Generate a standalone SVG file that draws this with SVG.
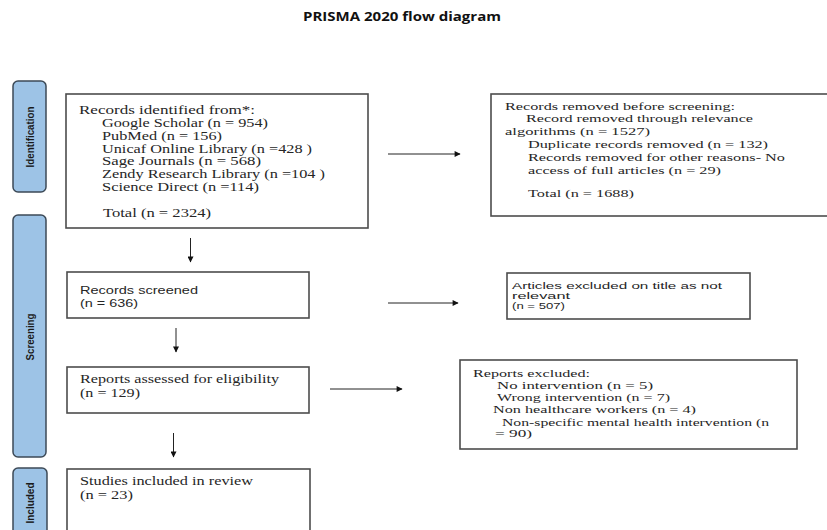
<svg xmlns="http://www.w3.org/2000/svg" width="827" height="530" viewBox="0 0 827 530">
<defs>
<style>
.bg{fill:#ffffff}
.box{fill:#ffffff;stroke:#4d4d4d;stroke-width:1.6}
.side{fill:#9dc3e6;stroke:#3d4a57;stroke-width:1.5}
.ser{font-family:"Liberation Serif","Times New Roman",serif;font-size:12px;fill:#262626}
.ser2{font-family:"Liberation Serif","Times New Roman",serif;font-size:11px;fill:#262626}
.san{font-family:"Liberation Sans",Arial,sans-serif;font-size:11px;fill:#262626}
.san2{font-family:"Liberation Sans",Arial,sans-serif;font-size:9.5px;fill:#262626}
.lbl{font-family:"Liberation Sans",Arial,sans-serif;font-size:11px;font-weight:bold;fill:#1a1a1a}
.title{font-family:"Open Sans","Liberation Sans",sans-serif;font-size:11.5px;font-weight:bold;fill:#111}
.con{stroke:#222;stroke-width:1;fill:none;marker-end:url(#ah)}
</style>
<marker id="ah" viewBox="0 0 10 10" refX="9" refY="5" markerWidth="7" markerHeight="6" markerUnits="userSpaceOnUse" orient="auto">
<path d="M0,0 L10,5 L0,10 z" fill="#111"/>
</marker>
</defs>
<rect class="bg" x="0" y="0" width="827" height="530"/>
<text class="title" x="402" y="21" text-anchor="middle" textLength="198" lengthAdjust="spacingAndGlyphs">PRISMA 2020 flow diagram</text>

<g id="side-identification">
<rect class="side" x="13" y="81" width="33" height="111" rx="5"/>
<text class="lbl" transform="translate(29.5,137) rotate(-90)" text-anchor="middle" dominant-baseline="central" textLength="61" lengthAdjust="spacingAndGlyphs">Identification</text>
</g>
<g id="side-screening">
<rect class="side" x="13" y="215" width="33" height="242" rx="5"/>
<text class="lbl" transform="translate(29.5,337) rotate(-90)" text-anchor="middle" dominant-baseline="central" textLength="47" lengthAdjust="spacingAndGlyphs">Screening</text>
</g>
<g id="side-included">
<rect class="side" x="13" y="468" width="34" height="80" rx="5"/>
<text class="lbl" transform="translate(30,503) rotate(-90)" text-anchor="middle" dominant-baseline="central" textLength="41" lengthAdjust="spacingAndGlyphs">Included</text>
</g>

<g id="records-identified">
<rect class="box" x="66" y="94" width="302" height="134"/>
<text class="ser" x="79" y="114" textLength="176" lengthAdjust="spacingAndGlyphs">Records identified from*:</text>
<text class="ser" x="102" y="127" textLength="166" lengthAdjust="spacingAndGlyphs">Google Scholar (n = 954)</text>
<text class="ser" x="102" y="140" textLength="120" lengthAdjust="spacingAndGlyphs">PubMed (n = 156)</text>
<text class="ser" x="102" y="152.5" textLength="210" lengthAdjust="spacingAndGlyphs">Unicaf Online Library (n =428 )</text>
<text class="ser" x="102" y="165" textLength="159" lengthAdjust="spacingAndGlyphs">Sage Journals (n = 568)</text>
<text class="ser" x="102" y="178" textLength="223" lengthAdjust="spacingAndGlyphs">Zendy Research Library (n =104 )</text>
<text class="ser" x="102" y="191" textLength="157" lengthAdjust="spacingAndGlyphs">Science Direct (n =114)</text>
<text class="ser" x="103" y="217" textLength="108" lengthAdjust="spacingAndGlyphs">Total (n = 2324)</text>
</g>

<g id="records-removed">
<rect class="box" x="491" y="94" width="340" height="122"/>
<text class="ser2" x="505" y="110" textLength="230" lengthAdjust="spacingAndGlyphs">Records removed before screening:</text>
<text class="ser2" x="526" y="122" textLength="227" lengthAdjust="spacingAndGlyphs">Record removed through relevance</text>
<text class="ser2" x="505" y="135" textLength="145" lengthAdjust="spacingAndGlyphs">algorithms (n = 1527)</text>
<text class="ser2" x="528" y="148" textLength="240" lengthAdjust="spacingAndGlyphs">Duplicate records removed (n = 132)</text>
<text class="ser2" x="528" y="161" textLength="257" lengthAdjust="spacingAndGlyphs">Records removed for other reasons- No</text>
<text class="ser2" x="528" y="173.5" textLength="193" lengthAdjust="spacingAndGlyphs">access of full articles (n = 29)</text>
<text class="ser2" x="528" y="197" textLength="106" lengthAdjust="spacingAndGlyphs">Total (n = 1688)</text>
</g>

<g id="records-screened">
<rect class="box" x="67" y="272" width="242" height="46"/>
<text class="san" x="80" y="294" textLength="118" lengthAdjust="spacingAndGlyphs">Records screened</text>
<text class="san" x="80" y="307" textLength="58" lengthAdjust="spacingAndGlyphs">(n = 636)</text>
</g>

<g id="articles-excluded">
<rect class="box" x="507" y="273" width="243" height="46"/>
<text class="san2" x="512" y="288.5" textLength="210" lengthAdjust="spacingAndGlyphs">Articles excluded on title as not</text>
<text class="san2" x="512" y="298.5" textLength="58" lengthAdjust="spacingAndGlyphs">relevant</text>
<text class="san2" x="512" y="308.5" textLength="53" lengthAdjust="spacingAndGlyphs">(n = 507)</text>
</g>

<g id="reports-assessed">
<rect class="box" x="67" y="367" width="242" height="46"/>
<text class="ser" x="80" y="383" textLength="199" lengthAdjust="spacingAndGlyphs">Reports assessed for eligibility</text>
<text class="ser" x="80" y="397" textLength="60" lengthAdjust="spacingAndGlyphs">(n = 129)</text>
</g>

<g id="reports-excluded">
<rect class="box" x="460" y="360" width="337" height="89"/>
<text class="ser2" x="473" y="377" textLength="117" lengthAdjust="spacingAndGlyphs">Reports excluded:</text>
<text class="ser2" x="497" y="389" textLength="156" lengthAdjust="spacingAndGlyphs">No intervention (n = 5)</text>
<text class="ser2" x="497" y="401" textLength="173" lengthAdjust="spacingAndGlyphs">Wrong intervention (n = 7)</text>
<text class="ser2" x="493" y="413" textLength="203" lengthAdjust="spacingAndGlyphs">Non healthcare workers (n = 4)</text>
<text class="ser2" x="502" y="425.5" textLength="267" lengthAdjust="spacingAndGlyphs">Non-specific mental health intervention (n</text>
<text class="ser2" x="495" y="437" textLength="37" lengthAdjust="spacingAndGlyphs">= 90)</text>
</g>

<g id="studies-included">
<rect class="box" x="67" y="469" width="243" height="80"/>
<text class="ser" x="80" y="485" textLength="173" lengthAdjust="spacingAndGlyphs">Studies included in review</text>
<text class="ser" x="80" y="499" textLength="53" lengthAdjust="spacingAndGlyphs">(n = 23)</text>
</g>

<g id="connectors">
<line class="con" x1="388" y1="154" x2="460" y2="154"/>
<line class="con" x1="190.5" y1="238" x2="190.5" y2="262"/>
<line class="con" x1="388" y1="303" x2="458" y2="303"/>
<line class="con" x1="176" y1="328" x2="176" y2="352"/>
<line class="con" x1="330" y1="389" x2="402" y2="389"/>
<line class="con" x1="173.5" y1="433" x2="173.5" y2="457"/>
</g>
</svg>
